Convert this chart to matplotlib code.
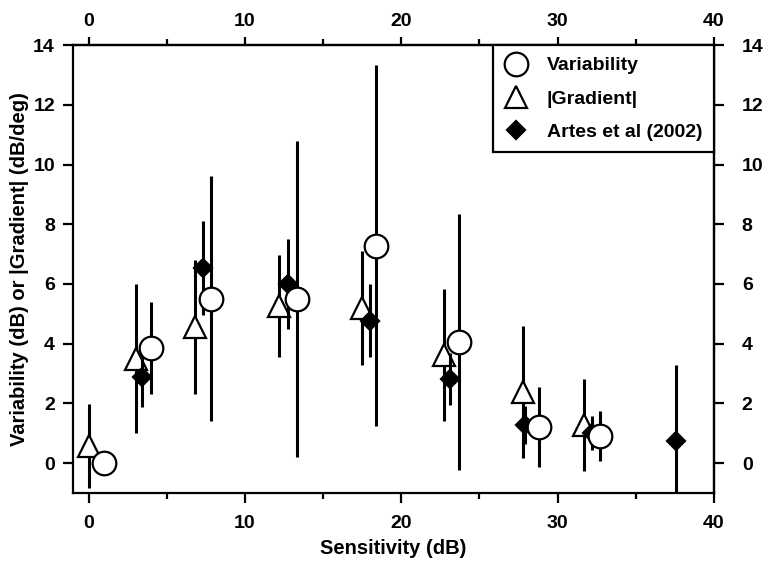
"""Variability and gradient versus sensitivity, with Artes et al (2002) for comparison."""

import matplotlib

matplotlib.use("Agg")
import matplotlib.pyplot as plt
from matplotlib.ticker import MultipleLocator

# Variability (open circles)
var_x = [1.0, 4.0, 7.8, 13.3, 18.4, 23.7, 28.8, 32.7]
var_y = [0.0, 3.86, 5.5, 5.5, 7.28, 4.06, 1.21, 0.91]
var_err = [0.0, 1.55, 4.1, 5.3, 6.05, 4.3, 1.35, 0.85]

# |Gradient| (open triangles)
grad_x = [0.0, 3.0, 6.8, 12.2, 17.5, 22.7, 27.8, 31.7]
grad_y = [0.57, 3.5, 4.56, 5.27, 5.2, 3.62, 2.38, 1.28]
grad_err = [1.4, 2.5, 2.26, 1.7, 1.9, 2.2, 2.2, 1.55]

# Artes et al (2002) (filled diamonds)
artes_x = [3.4, 7.3, 12.75, 18.0, 23.1, 27.9, 32.2, 37.6]
artes_y = [2.89, 6.54, 6.0, 4.77, 2.82, 1.28, 1.0, 0.74]
artes_err = [1.0, 1.58, 1.5, 1.22, 0.87, 0.63, 0.57, 2.55]

x_ticks = [0, 10, 20, 30, 40]
y_ticks = [0, 2, 4, 6, 8, 10, 12, 14]

FONT = ["Liberation Sans", "DejaVu Sans"]
plt.rcParams["font.family"] = FONT
plt.rcParams["font.weight"] = "bold"
plt.rcParams["axes.labelweight"] = "bold"

fig = plt.figure(figsize=(7.69, 5.71), dpi=100)
ax = fig.add_axes([0.0949, 0.1366, 0.8336, 0.7844])

common = dict(ecolor="black", elinewidth=2.2, capsize=0, linestyle="none",
              markeredgecolor="black", markeredgewidth=1.6)
ax.errorbar(grad_x, grad_y, yerr=grad_err, marker="^", markersize=16,
            markerfacecolor="white", label="|Gradient|", zorder=2, **common)
ax.errorbar(artes_x, artes_y, yerr=artes_err, marker="D", markersize=9,
            markerfacecolor="black", label="Artes et al (2002)", zorder=3, **common)
ax.errorbar(var_x, var_y, yerr=var_err, marker="o", markersize=17,
            markerfacecolor="white", label="Variability", zorder=4, **common)

ax.set_xlim(-1, 40)
ax.set_ylim(-1, 14)
ax.set_xticks(x_ticks)
ax.set_yticks(y_ticks)
ax.xaxis.set_minor_locator(MultipleLocator(5))

for side in ax.spines.values():
    side.set_linewidth(1.6)

ax.tick_params(which="both", direction="out", width=1.6, labelsize=14)
ax.tick_params(which="major", length=7)
ax.tick_params(which="minor", length=4)
ax.tick_params(axis="x", pad=9)
ax.tick_params(axis="y", pad=6)

# top and right copies of the scales
top = ax.secondary_xaxis("top")
top.set_xticks(x_ticks)
top.xaxis.set_minor_locator(MultipleLocator(5))
top.tick_params(which="both", direction="out", width=1.6, labelsize=14, pad=5)
top.tick_params(which="major", length=6)
top.tick_params(which="minor", length=4)
top.spines["top"].set_linewidth(1.6)

right = ax.secondary_yaxis("right")
right.set_yticks(y_ticks)
right.tick_params(direction="out", width=1.6, length=7, labelsize=14, pad=13)
right.spines["right"].set_linewidth(1.6)

ax.set_xlabel("Sensitivity (dB)", fontsize=14.5, fontweight="bold", labelpad=5)
ax.set_ylabel("Variability (dB) or |Gradient| (dB/deg)", fontsize=14.5,
              fontweight="bold", labelpad=3)

handles, labels = ax.get_legend_handles_labels()
order = [labels.index(n) for n in ["Variability", "|Gradient|", "Artes et al (2002)"]]
leg = ax.legend([handles[i][0] for i in order], [labels[i] for i in order],
                loc="upper right", bbox_to_anchor=(1.0, 1.0), borderaxespad=0,
                frameon=True, fancybox=False, edgecolor="black", framealpha=1,
                prop={"weight": "bold", "size": 14},
                handletextpad=1.0, labelspacing=0.8, borderpad=0.6,
                handlelength=1.15)
leg.get_frame().set_linewidth(1.6)
leg.set_zorder(10)

fig.savefig("out.png", dpi=100)
